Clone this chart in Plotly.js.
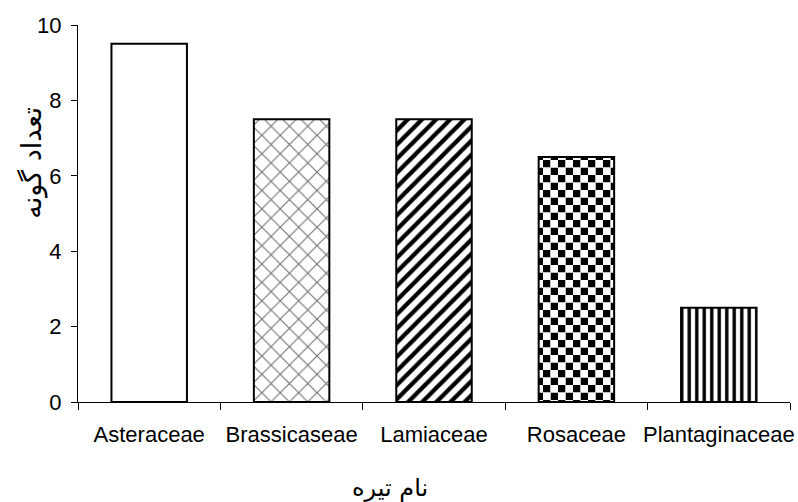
<!DOCTYPE html>
<html><head><meta charset="utf-8">
<script src="https://cdn.plot.ly/plotly-3.0.1.min.js"></script>
<style>body{margin:0;background:#fff}</style></head>
<body><div id="chart" style="width:798px;height:502px"></div>
<script>
const families = ['Asteraceae', 'Brassicaseae', 'Lamiaceae', 'Rosaceae', 'Plantaginaceae'];
const speciesCount = [9.5, 7.5, 7.5, 6.5, 2.5];
const yTicks = [0, 2, 4, 6, 8, 10];
const xTitle = 'نام تیره';
const yTitle = 'تعداد گونه';

const trace = {
  type: 'bar',
  x: families,
  y: speciesCount,
  marker: {
    color: '#ffffff',
    line: {color: '#000000', width: 2},
    pattern: {
      shape: ['', 'x', '/', '.', '|'],
      fgcolor: ['#000000', '#707070', '#000000', '#000000', '#000000'],
      bgcolor: '#ffffff',
      size: [10, 13, 10, 15, 7.5],
      solidity: [0.1, 0.16, 0.42, 0.5, 0.45],
      fillmode: 'replace'
    }
  },
  hoverinfo: 'x+y'
};

const layout = {
  width: 798, height: 502,
  margin: {l: 78, r: 8, t: 25, b: 100},
  paper_bgcolor: '#ffffff', plot_bgcolor: '#ffffff',
  bargap: 0.47,
  showlegend: false,
  font: {family: 'Liberation Sans, Arial, sans-serif', size: 22, color: '#000'},
  xaxis: {
    type: 'category',
    range: [-0.5, 4.5],
    showline: true, linecolor: '#000', linewidth: 1,
    ticks: 'outside', tickson: 'boundaries', ticklen: 7, tickcolor: '#000', tickwidth: 1,
    tickangle: 0, automargin: false, ticklabelstandoff: 13,
    showgrid: false, zeroline: false,
    tickfont: {size: 22, family: 'Liberation Sans, Arial, sans-serif'}
  },
  yaxis: {
    range: [0, 10],
    tickvals: yTicks, ticktext: yTicks.map(String),
    showline: true, linecolor: '#000', linewidth: 1,
    ticks: 'outside', ticklen: 6, tickcolor: '#000', tickwidth: 1,
    automargin: false, ticklabelstandoff: 5,
    showgrid: false, zeroline: false,
    tickfont: {size: 22, family: 'Liberation Sans, Arial, sans-serif'}
  },
  annotations: [
    {text: xTitle, xref: 'paper', yref: 'paper', x: 0.438, y: -0.228, xanchor: 'center', yanchor: 'middle',
     showarrow: false, font: {family: 'DejaVu Sans, sans-serif', size: 24, color: '#000'}},
    {text: yTitle, xref: 'paper', yref: 'paper', x: -0.065, y: 0.634, xanchor: 'center', yanchor: 'middle',
     textangle: -90, showarrow: false, font: {family: 'DejaVu Sans, sans-serif', size: 27, color: '#000'}}
  ]
};

Plotly.newPlot('chart', [trace], layout, {displayModeBar: false, staticPlot: true}).then(function () {
  // Turn the dot pattern of the fourth bar into a checkerboard
  const paths = document.querySelectorAll('.trace.bars .point path');
  const p = paths[3];
  if (!p) return;
  const fill = p.style.fill || p.getAttribute('fill') || '';
  const m = fill.match(/#([^"')]+)/);
  if (!m) return;
  const pat = document.getElementById(m[1]);
  if (!pat) return;
  const NS = 'http://www.w3.org/2000/svg';
  const s = 15, h = s / 2;
  pat.setAttribute('width', s); pat.setAttribute('height', s);
  while (pat.firstChild) pat.removeChild(pat.firstChild);
  [[0, 0, '#000'], [h, h, '#000'], [h, 0, '#fff'], [0, h, '#fff']].forEach(function (c) {
    const r = document.createElementNS(NS, 'rect');
    r.setAttribute('x', c[0]); r.setAttribute('y', c[1]);
    r.setAttribute('width', h); r.setAttribute('height', h);
    r.setAttribute('fill', c[2]);
    pat.appendChild(r);
  });
});
</script></body></html>
